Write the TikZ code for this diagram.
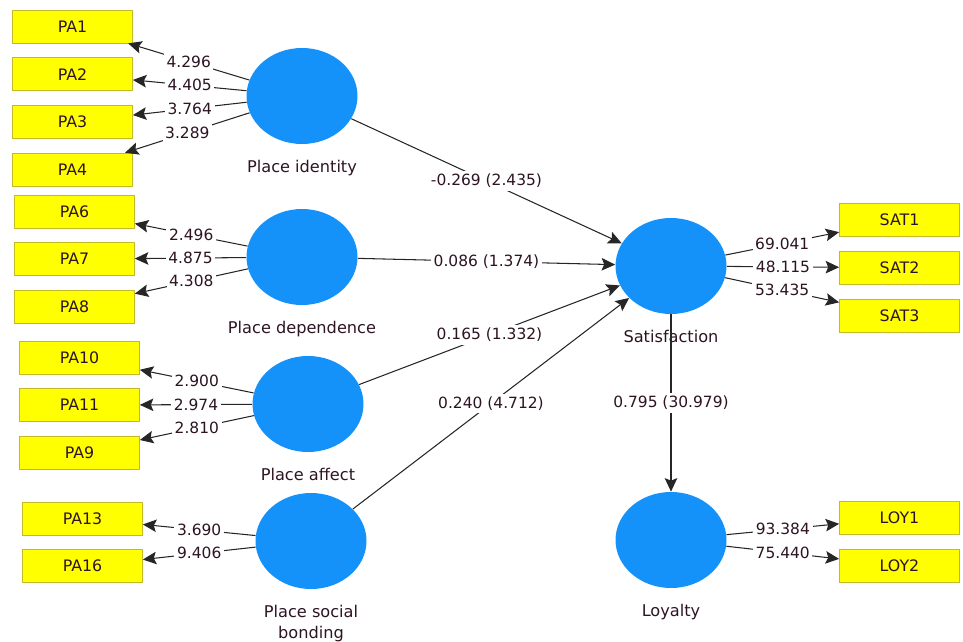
\documentclass[tikz,border=0pt]{standalone}
\usepackage{fontspec}
\setmainfont{DejaVu Sans}
\usepackage{xcolor}
\usepackage{tikz}
\usetikzlibrary{arrows.meta,positioning,shapes}

\definecolor{latentblue}{RGB}{20,146,250}
\definecolor{itemyellow}{RGB}{255,255,0}
\definecolor{itemedge}{RGB}{196,186,40}
\definecolor{txtcol}{RGB}{45,20,35}

\begin{document}
\begin{tikzpicture}[>={Stealth[length=2.7mm,width=2.5mm,inset=0.5mm]},
    latent/.style={ellipse, fill=latentblue, minimum width=2.22cm, minimum height=1.92cm},
    item/.style={draw=itemedge, fill=itemyellow, minimum width=2.4cm, minimum height=0.66cm, inner sep=0pt, text=txtcol, font=\fontsize{9}{10}\selectfont}]
        \tikzstyle{cname} = [text=txtcol, align=center, inner sep=0pt, font=\fontsize{9.2}{11.4}\selectfont]
        \tikzstyle{load} = [fill=white, inner sep=1.5pt, text=txtcol, font=\fontsize{8.8}{10}\selectfont]
        \tikzstyle{link} = [->, draw=black!85, line width=0.6pt]
        \useasboundingbox (0,0) rectangle (19.26,-12.82);

        \node[latent] (PI) at (6.04,-1.92) {};
        \node[latent] (PD) at (6.04,-5.14) {};
        \node[latent] (PAF) at (6.16,-8.08) {};
        \node[latent] (PSB) at (6.22,-10.82) {};
        \node[latent] (SAT) at (13.42,-5.32) {};
        \node[latent] (LOY) at (13.42,-10.8) {};

        \node[cname, below = 0.32cm of PI] (PIname) {Place identity};
        \node[cname, below = 0.32cm of PD] (PDname) {Place dependence};
        \node[cname, below = 0.32cm of PAF] (PAFname) {Place affect};
        \node[cname, below = 0.32cm of PSB] (PSBname) {Place social\\bonding};
        \node[cname, below = 0.32cm of SAT] (SATname) {Satisfaction};
        \node[cname, below = 0.32cm of LOY] (LOYname) {Loyalty};

        \node[item] (PA1) at (1.45,-0.53) {PA1};
        \node[item, below = 0.28cm of PA1] (PA2) {PA2};
        \node[item, below = 0.28cm of PA2] (PA3) {PA3};
        \node[item, below = 0.28cm of PA3] (PA4) {PA4};
        \node[item] (PA6) at (1.49,-4.23) {PA6};
        \node[item, below = 0.28cm of PA6] (PA7) {PA7};
        \node[item, below = 0.28cm of PA7] (PA8) {PA8};
        \node[item] (PA10) at (1.59,-7.15) {PA10};
        \node[item, below = 0.28cm of PA10] (PA11) {PA11};
        \node[item, below = 0.28cm of PA11] (PA9) {PA9};
        \node[item] (PA13) at (1.65,-10.37) {PA13};
        \node[item, below = 0.28cm of PA13] (PA16) {PA16};
        \node[item] (SAT1) at (17.99,-4.40) {SAT1};
        \node[item, below = 0.28cm of SAT1] (SAT2) {SAT2};
        \node[item, below = 0.28cm of SAT2] (SAT3) {SAT3};
        \node[item] (LOY1) at (17.99,-10.36) {LOY1};
        \node[item, below = 0.28cm of LOY1] (LOY2) {LOY2};

        % outer loadings
        \draw[link] (PI) -- node[load] {4.296} (PA1);
        \draw[link] (PI) -- node[load] {4.405} (PA2);
        \draw[link] (PI) -- node[load] {3.764} (PA3);
        \draw[link] (PI) -- node[load] {3.289} (PA4);
        \draw[link] (PD) -- node[load] {2.496} (PA6);
        \draw[link] (PD) -- node[load] {4.875} (PA7);
        \draw[link] (PD) -- node[load] {4.308} (PA8);
        \draw[link] (PAF) -- node[load] {2.900} (PA10);
        \draw[link] (PAF) -- node[load] {2.974} (PA11);
        \draw[link] (PAF) -- node[load] {2.810} (PA9);
        \draw[link] (PSB) -- node[load] {3.690} (PA13);
        \draw[link] (PSB) -- node[load] {9.406} (PA16);
        \draw[link] (SAT) -- node[load] {69.041} (SAT1);
        \draw[link] (SAT) -- node[load] {48.115} (SAT2);
        \draw[link] (SAT) -- node[load] {53.435} (SAT3);
        \draw[link] (LOY) -- node[load] {93.384} (LOY1);
        \draw[link] (LOY) -- node[load] {75.440} (LOY2);

        % path coefficients
        \draw[link] (PI) -- node[load] {-0.269 (2.435)} (SAT);
        \draw[link] (PD) -- node[load] {0.086 (1.374)} (SAT);
        \draw[link] (PAF) -- node[load] {0.165 (1.332)} (SAT);
        \draw[link] (PSB) -- node[load] {0.240 (4.712)} (SAT);
        \draw[link] (SAT) -- node[load] {0.795 (30.979)} (LOY);
\end{tikzpicture}
\end{document}
